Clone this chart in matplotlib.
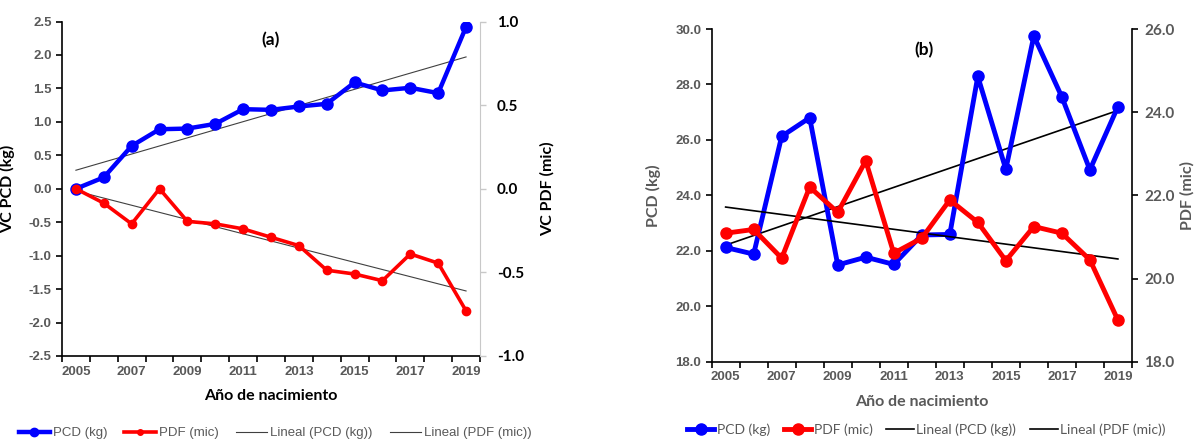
import matplotlib.pyplot as plt
import numpy as np
from matplotlib.lines import Line2D

years = list(range(2005, 2020))
# panel (a): variacion acumulada
vc_pcd = [0.0, 0.17, 0.64, 0.89, 0.90, 0.97, 1.19, 1.18, 1.23, 1.27, 1.59, 1.47, 1.51, 1.43, 2.42]
vc_pdf = [0.0, -0.086, -0.21, 0.0, -0.195, -0.21, -0.24, -0.29, -0.34, -0.487, -0.51, -0.55, -0.39, -0.445, -0.73]
# panel (b): valores
pcd = [22.12, 21.88, 26.13, 26.80, 21.49, 21.77, 21.51, 22.57, 22.59, 28.29, 24.94, 29.75, 27.55, 24.92, 27.20]
pdf = [21.09, 21.18, 20.49, 22.20, 21.59, 22.83, 20.61, 20.97, 21.89, 21.35, 20.43, 21.25, 21.09, 20.45, 19.00]

GRAY = '#595959'
ARIAL = 'Liberation Sans'
CALIBRI = 'Lato'

x = np.arange(len(years))


def trend(v):
    m, b = np.polyfit(x, v, 1)
    return m * x + b


def cat_axis(ax, color):
    ax.set_xlim(-0.5, len(years) - 0.5)
    ax.set_xticks(np.arange(-0.5, len(years), 1.0))
    ax.set_xticklabels([])
    ax.set_xticks(x[::2], minor=True)
    ax.set_xticklabels([str(y) for y in years[::2]], minor=True,
                       fontfamily=ARIAL, fontweight='bold', fontsize=9.5, color=color)
    ax.tick_params(axis='x', which='minor', length=0, pad=7)
    ax.tick_params(axis='x', which='major', length=4, width=1.2, direction='out')


fig = plt.figure(figsize=(11.94, 4.40), dpi=100)

# ---------------- (a)
ax1 = fig.add_axes([0.0519, 0.191, 0.3501, 0.760])
ax2 = ax1.twinx()
cat_axis(ax1, GRAY)
ax1.set_ylim(-2.5, 2.5)
ax1.set_yticks(np.arange(-2.5, 2.51, 0.5))
ax1.set_yticklabels(['%.1f' % v for v in np.arange(-2.5, 2.51, 0.5)],
                    fontfamily=ARIAL, fontweight='bold', fontsize=9.5, color=GRAY)
ax1.tick_params(axis='y', length=4, width=1.2)
ax2.set_ylim(-1.0, 1.0)
ax2.set_yticks(np.arange(-1.0, 1.01, 0.5))
ax2.set_yticklabels(['%.1f' % v for v in np.arange(-1.0, 1.01, 0.5)],
                    fontfamily=CALIBRI, fontweight='bold', fontsize=11, color='black')
ax2.tick_params(axis='y', length=4, width=1, color='#c8c8c8', pad=8)
for s in ['top']:
    ax1.spines[s].set_visible(False)
    ax2.spines[s].set_visible(False)
ax1.spines['right'].set_visible(False)
ax2.spines['left'].set_visible(False)
ax2.spines['bottom'].set_visible(False)
ax1.spines['left'].set_linewidth(1.2)
ax1.spines['bottom'].set_linewidth(1.2)
ax2.spines['right'].set_color('#c8c8c8')

ax1.plot(x, vc_pcd, color='#0000ff', lw=3.2, marker='o', ms=8, zorder=3)
ax1.plot(x, trend(vc_pcd), color='#404040', lw=0.8, zorder=2)
ax2.plot(x, vc_pdf, color='#ff0000', lw=2.6, marker='o', ms=6, zorder=3)
ax2.plot(x, trend(vc_pdf), color='#404040', lw=0.8, zorder=2)

ax1.set_ylabel('VC PCD (kg)', fontfamily=CALIBRI, fontweight='bold', fontsize=11.5, labelpad=10)
ax2.set_ylabel('VC PDF (mic)', fontfamily=CALIBRI, fontweight='bold', fontsize=11.5, labelpad=12)
ax1.set_xlabel('Año de nacimiento', fontfamily=CALIBRI, fontweight='bold', fontsize=11.5, labelpad=8)
ax1.text(0.5, 0.97, '(a)', transform=ax1.transAxes, ha='center', va='top',
         fontfamily=CALIBRI, fontweight='bold', fontsize=12.5)

hA = [Line2D([], [], color='#0000ff', lw=3.2, marker='o', ms=6),
      Line2D([], [], color='#ff0000', lw=2.6, marker='o', ms=4),
      Line2D([], [], color='#404040', lw=0.8),
      Line2D([], [], color='#404040', lw=0.8)]
legA = fig.legend(hA, ['PCD (kg)', 'PDF (mic)', 'Lineal (PCD (kg))', 'Lineal (PDF (mic))'],
                  loc='center', bbox_to_anchor=(275 / 1194, 1 - 433 / 440), ncol=4,
                  frameon=False, prop={'family': ARIAL, 'size': 9.5}, handlelength=2.4,
                  handletextpad=0.2, columnspacing=1.3)
for t in legA.get_texts():
    t.set_color(GRAY)

# ---------------- (b)
bx1 = fig.add_axes([0.596, 0.178, 0.352, 0.756])
bx2 = bx1.twinx()
cat_axis(bx1, GRAY)
bx1.set_ylim(18, 30)
bx1.set_yticks(np.arange(18, 30.1, 2))
bx1.set_yticklabels(['%.1f' % v for v in np.arange(18, 30.1, 2)],
                    fontfamily=ARIAL, fontweight='bold', fontsize=9.5, color=GRAY)
bx1.tick_params(axis='y', length=4, width=1.2)
bx2.set_ylim(18, 26)
bx2.set_yticks(np.arange(18, 26.1, 2))
bx2.set_yticklabels(['%.1f' % v for v in np.arange(18, 26.1, 2)],
                    fontfamily=CALIBRI, fontweight='bold', fontsize=11, color=GRAY)
bx2.tick_params(axis='y', length=4, width=1.2, pad=5)
bx1.spines['top'].set_visible(False)
bx2.spines['top'].set_visible(False)
bx1.spines['right'].set_visible(False)
bx2.spines['left'].set_visible(False)
bx2.spines['bottom'].set_visible(False)
for s in ['left', 'bottom']:
    bx1.spines[s].set_linewidth(1.2)
bx2.spines['right'].set_linewidth(1.2)

bx1.plot(x, pcd, color='#0000ff', lw=3.5, marker='o', ms=8, zorder=3)
bx1.plot(x, trend(pcd), color='black', lw=1.2, zorder=2)
bx2.plot(x, pdf, color='#ff0000', lw=3.5, marker='o', ms=8, zorder=3)
bx2.plot(x, trend(pdf), color='black', lw=1.2, zorder=2)

bx1.set_ylabel('PCD (kg)', fontfamily=CALIBRI, fontweight='bold', fontsize=11.5, color=GRAY, labelpad=10)
bx2.set_ylabel('PDF (mic)', fontfamily=CALIBRI, fontweight='bold', fontsize=11.5, color=GRAY, labelpad=4)
bx1.set_xlabel('Año de nacimiento', fontfamily=CALIBRI, fontweight='bold', fontsize=11.5, color=GRAY, labelpad=8)
bx1.text(0.505, 0.96, '(b)', transform=bx1.transAxes, ha='center', va='top',
         fontfamily=CALIBRI, fontweight='bold', fontsize=12.5)

hB = [Line2D([], [], color='#0000ff', lw=3.5, marker='o', ms=8),
      Line2D([], [], color='#ff0000', lw=3.5, marker='o', ms=8),
      Line2D([], [], color='black', lw=1.2),
      Line2D([], [], color='black', lw=1.2)]
legB = fig.legend(hB, ['PCD (kg)', 'PDF (mic)', 'Lineal (PCD (kg))', 'Lineal (PDF (mic))'],
                  loc='center', bbox_to_anchor=(926 / 1194, 1 - 430 / 440), ncol=4,
                  frameon=False, prop={'family': CALIBRI, 'size': 10}, handlelength=2.0,
                  handletextpad=0.15, columnspacing=1.0)
for t in legB.get_texts():
    t.set_color(GRAY)

fig.savefig('out.png', dpi=100)
